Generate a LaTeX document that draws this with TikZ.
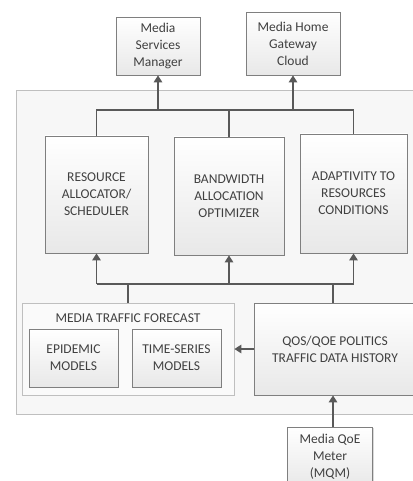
\documentclass[tikz,border=0pt]{standalone}
\usepackage{fontspec}
\setmainfont{Carlito}
\usetikzlibrary{arrows.meta,shadows,calc}
\definecolor{txt}{HTML}{404040}
\definecolor{bord}{HTML}{7F7F7F}
\definecolor{lbord}{HTML}{BFBFBF}
\definecolor{arrc}{HTML}{595959}
\tikzset{
  box/.style={draw=bord, line width=0.8pt, top color=white, bottom color=black!9,
    drop shadow={shadow xshift=1.2pt, shadow yshift=-1.2pt, fill=black!25, opacity=0.6},
    text=txt, align=center, inner sep=2pt,
    font=\fontsize{13.5}{17}\selectfont},
  container/.style={draw=lbord, line width=0.8pt, fill=black!3},
  arr/.style={draw=arrc, line width=1.6pt, -{Triangle[length=7pt,width=8.5pt]}},
  ln/.style={draw=arrc, line width=1.6pt},
}
\begin{document}
\begin{tikzpicture}[x=1pt,y=-1pt]
\useasboundingbox (0,0) rectangle (412,481);
% outer container
\node[container, anchor=north west, minimum width=410pt, minimum height=324pt, inner sep=0pt] (outer) at (16,90) {};
% top external boxes
\node[box, minimum width=84pt, minimum height=58pt] (msm) at (158,46) {Media\\Services\\Manager};
\node[box, minimum width=94pt, minimum height=63pt] (mhgc) at (293,43.5) {Media Home\\Gateway\\Cloud};
% three boxes
\node[box, minimum width=103pt, minimum height=117pt] (ras) at (96.5,194.5) {RESOURCE\\ALLOCATOR/\\SCHEDULER};
\node[box, minimum width=110pt, minimum height=118pt] (bao) at (229,196) {BANDWIDTH\\ALLOCATION\\OPTIMIZER};
\node[box, minimum width=107pt, minimum height=119pt] (arc) at (353.5,193.5) {ADAPTIVITY TO\\RESOURCES\\CONDITIONS};
% forecast group
\node[container, draw=lbord, fill=black!2, drop shadow={shadow xshift=1pt, shadow yshift=-1pt, fill=black!15, opacity=0.5}, minimum width=212pt, minimum height=92pt, inner sep=0pt] (mtf) at (128,349) {};
\node[text=txt, font=\fontsize{13.5}{17}\selectfont, anchor=center] (mtft) at (128,318.5) {MEDIA TRAFFIC FORECAST};
\node[box, minimum width=89pt, minimum height=58pt] (epi) at (73.5,358) {EPIDEMIC\\MODELS};
\node[box, minimum width=89pt, minimum height=58pt] (tsm) at (176.5,358) {TIME-SERIES\\MODELS};
% qos box
\node[box, minimum width=162pt, minimum height=92pt] (qos) at (335,349) {QOS/QOE POLITICS\\TRAFFIC DATA HISTORY};
% MQM
\node[box, minimum width=85pt, minimum height=60pt] (mqm) at (330,457) {Media QoE\\Meter\\(MQM)};
% upper bus
\coordinate (b1l) at (96.5,110);
\coordinate (b1r) at (353.5,110);
\draw[ln] (ras.north) -- (ras.north |- b1l) -- (arc.north |- b1r) -- (arc.north);
\draw[ln] (bao.north) -- (bao.north |- b1l);
\draw[arr] (msm.south |- b1l) -- (msm.south);
\draw[arr] (mhgc.south |- b1l) -- (mhgc.south);
% lower bus
\coordinate (b2) at (0,284);
\draw[ln] (ras.south |- b2) -- (arc.south |- b2);
\draw[arr] (ras.south |- b2) -- (ras.south);
\draw[arr] (bao.south |- b2) -- (bao.south);
\draw[arr] (arc.south |- b2) -- (arc.south);
\draw[ln] (mtf.north) -- (mtf.north |- b2);
\draw[ln] (qos.north -| 333,0) -- (qos.north |- b2 -| 333,0);
% side arrow
\draw[arr] (qos.west) -- (mtf.east);
% MQM arrow
\draw[arr] (mqm.north -| 333,0) -- (qos.south -| 333,0);
\end{tikzpicture}
\end{document}
